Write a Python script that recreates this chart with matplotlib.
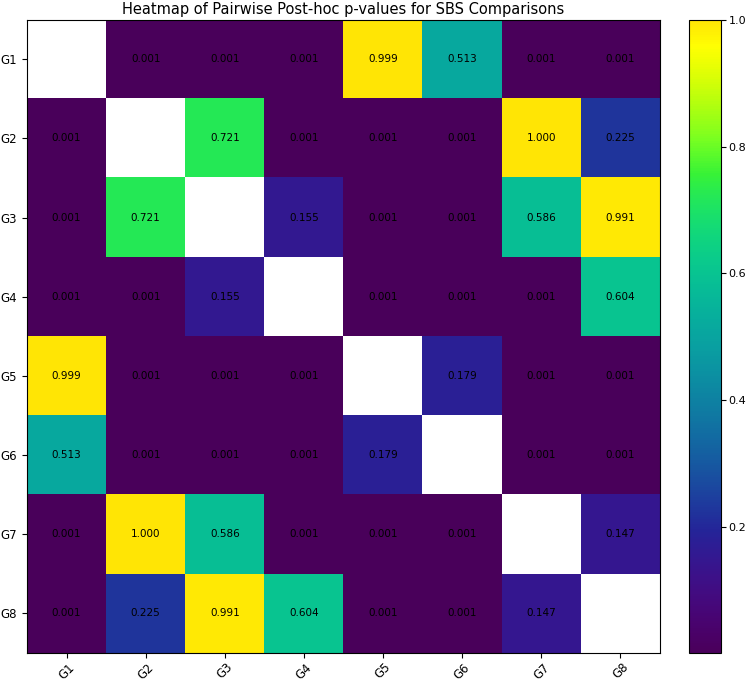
import colorsys

import matplotlib
matplotlib.use("Agg")
import matplotlib.pyplot as plt
import numpy as np
from matplotlib.colors import ListedColormap

GROUPS = ["G1", "G2", "G3", "G4", "G5", "G6", "G7", "G8"]

# pairwise post-hoc p-values (upper triangle, read row by row)
G1_ROW = [0.001, 0.001, 0.001, 0.999, 0.513, 0.001, 0.001]
G2_ROW = [0.721, 0.001, 0.001, 0.001, 1.000, 0.225]
G3_ROW = [0.155, 0.001, 0.001, 0.586, 0.991]
G4_ROW = [0.001, 0.001, 0.001, 0.604]
G5_ROW = [0.179, 0.001, 0.001]
G6_ROW = [0.001, 0.001]
G7_ROW = [0.147]
UPPER = [G1_ROW, G2_ROW, G3_ROW, G4_ROW, G5_ROW, G6_ROW, G7_ROW]


def build_matrix(upper):
    n = len(upper) + 1
    mat = np.full((n, n), np.nan)
    for i, row in enumerate(upper):
        for k, val in enumerate(row):
            j = i + 1 + k
            mat[i, j] = val
            mat[j, i] = val
    return mat


def punchy_viridis():
    # viridis with the saturation pushed up, like the reference render
    base = plt.get_cmap("viridis")(np.linspace(0, 1, 256))
    out = []
    for r, g, b, a in base:
        h, s, v = colorsys.rgb_to_hsv(r, g, b)
        s = 1 - (1 - s) ** 2
        v = min(1.0, v * (1 + 0.25 * v))
        out.append((*colorsys.hsv_to_rgb(h, s, v), 1.0))
    return ListedColormap(out)


pvals = build_matrix(UPPER)
cmap = punchy_viridis()
cmap.set_bad("white")

fig = plt.figure(figsize=(7.5, 6.81), dpi=100)
ax = fig.add_axes([0.036, 0.041, 0.844, 0.93])
cax = fig.add_axes([0.919, 0.041, 0.042, 0.93])

im = ax.imshow(np.ma.masked_invalid(pvals), cmap=cmap, vmin=0.001, vmax=1.0, aspect="auto")
n = len(GROUPS)
for i in range(n):
    for j in range(n):
        if not np.isnan(pvals[i, j]):
            ax.text(j, i, f"{pvals[i, j]:.3f}", ha="center", va="center", fontsize=7.5, color="black")

ax.set_xticks(range(n))
ax.set_yticks(range(n))
ax.set_xticklabels(GROUPS, rotation=45, fontsize=8.5)
ax.set_yticklabels(GROUPS, fontsize=8.5)
ax.tick_params(axis="x", pad=2)
ax.set_title("Heatmap of Pairwise Post-hoc p-values for SBS Comparisons", fontsize=10.5, pad=4)

cb = fig.colorbar(im, cax=cax)
cb.set_ticks([0.2, 0.4, 0.6, 0.8, 1.0])
cb.ax.tick_params(labelsize=8, pad=2)

plt.savefig("out.png", dpi=100)
plt.close(fig)
